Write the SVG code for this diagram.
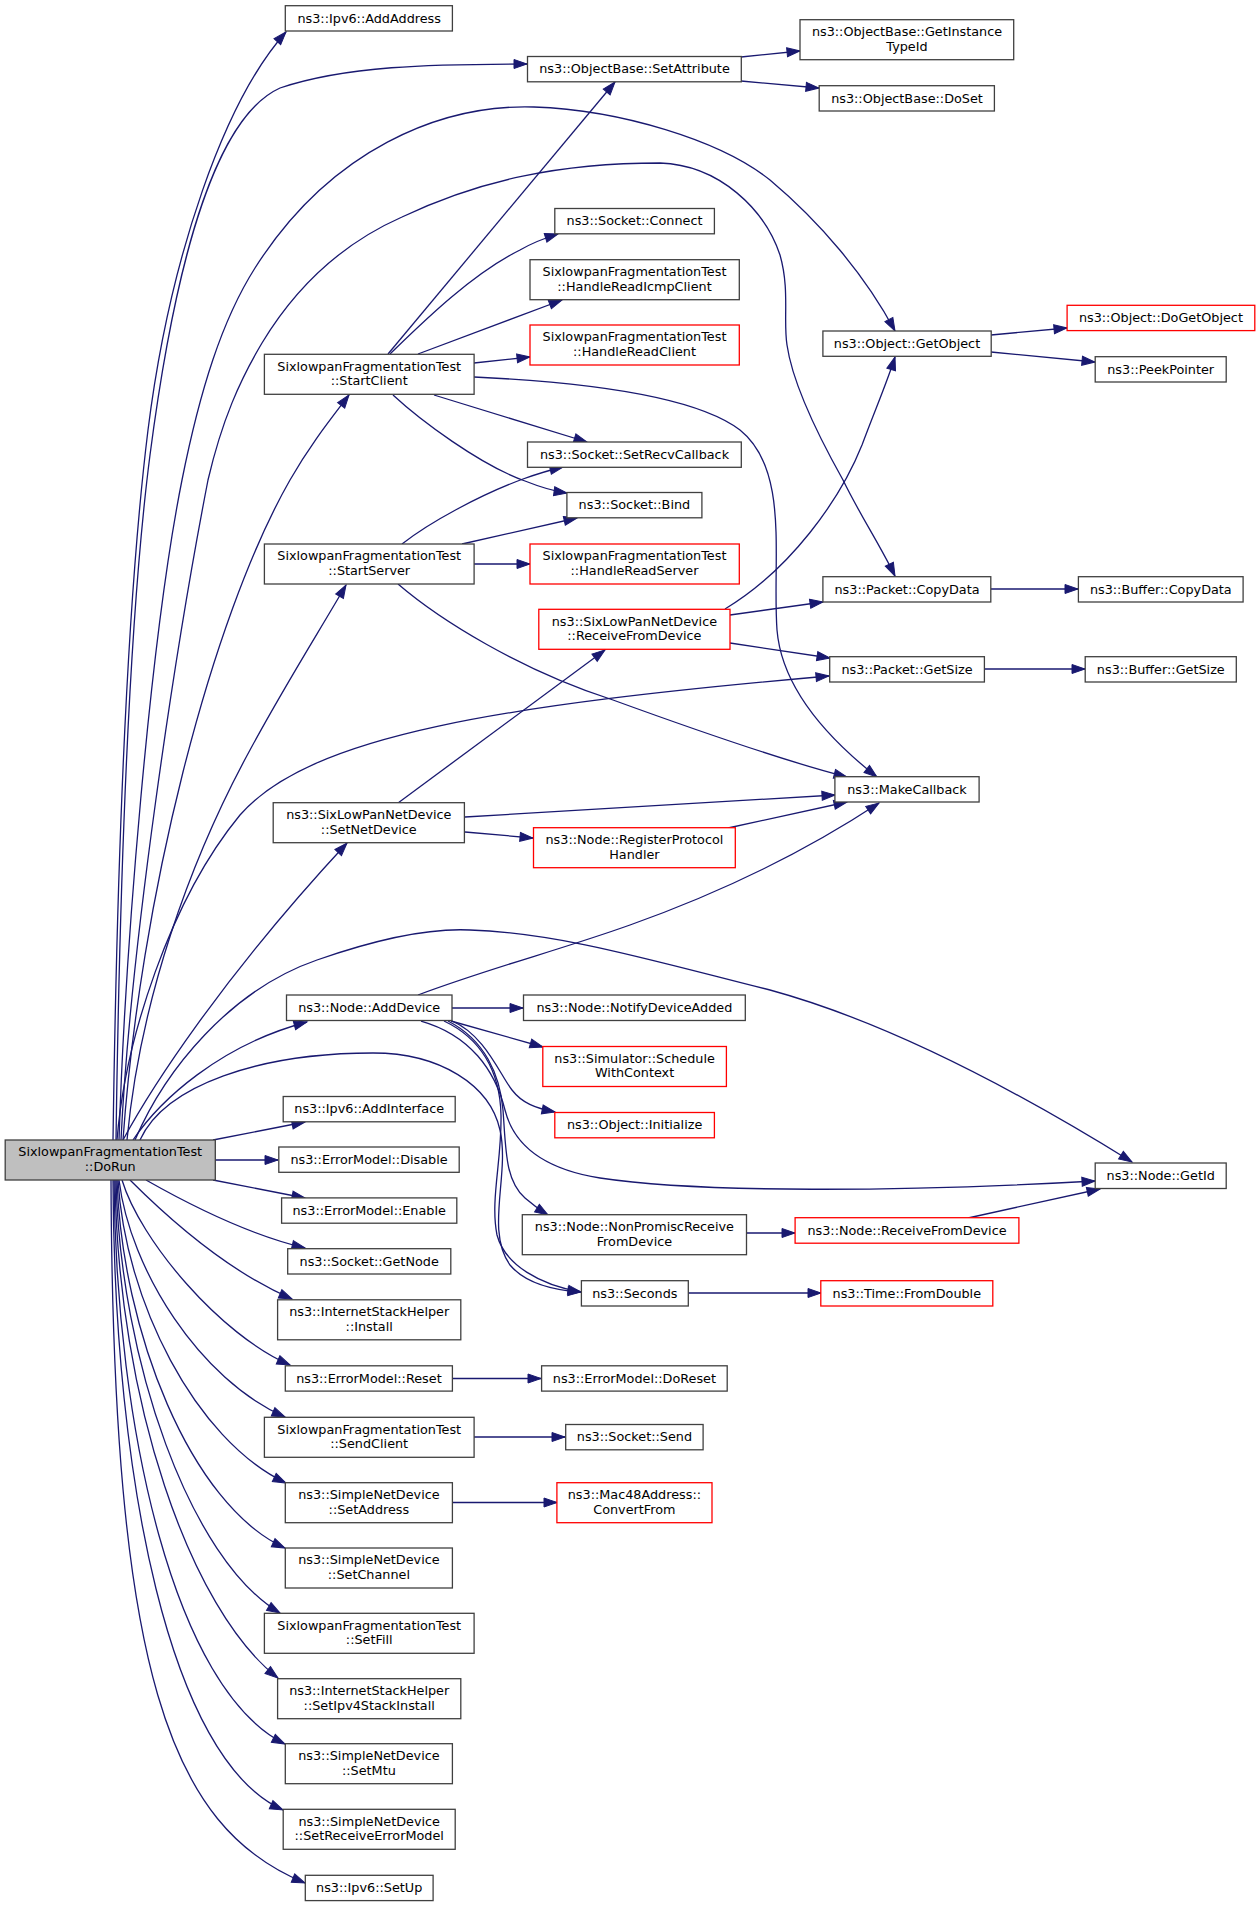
<svg xmlns="http://www.w3.org/2000/svg" width="1259" height="1907" viewBox="0 0 1259 1907">
<style>
.n rect{fill:#ffffff;stroke:#404040;stroke-width:1.3}
.r rect{stroke:#ff0000}
.root rect{fill:#bfbfbf}
text{font-family:"DejaVu Sans","Liberation Sans",sans-serif;font-size:12.8px;text-anchor:middle;fill:#000000}
.e path{fill:none;stroke:#191970;stroke-width:1.3;marker-end:url(#ah)}
</style>
<defs>
<marker id="ah" markerUnits="userSpaceOnUse" markerWidth="15" markerHeight="11" refX="13" refY="5" orient="auto" overflow="visible">
<path d="M0,0.5 L13,5 L0,9.5 z" fill="#191970" stroke="#191970" stroke-width="1"/>
</marker>
</defs>
<rect x="0" y="0" width="1259" height="1907" fill="#ffffff"/>
<g id="edges" class="e">
<path d="M113,1140 C117,860 127,600 148,430 C170,255 225,100 286,32"/>
<path d="M116,1140 C120,860 130,610 150,455 C178,240 220,115 280,88 C345,66 430,64 527,64"/>
<path d="M119,1140 C125,950 150,640 182,480 C200,390 222,320 255,268 C330,150 440,104 534,107 C620,110 720,140 770,180 C820,222 865,275 895,331"/>
<path d="M121,1140 C130,950 175,650 208,480 C222,420 240,380 262,343 C300,280 350,240 402,217 C480,180 560,163 660,163 C720,165 765,210 780,255 C790,290 783,320 787,345 C792,380 815,430 843,480 C860,515 880,545 895,576"/>
<path d="M123,1140 C140,900 210,620 290,480 C310,445 330,420 349,395"/>
<path d="M127,1140 C140,1000 190,860 250,750 C285,685 320,630 346,585"/>
<path d="M117,1140 C125,1040 170,900 240,815 C310,735 500,705 829,676"/>
<path d="M123,1140 C150,1090 220,980 347,843"/>
<path d="M135,1140 C165,1070 230,990 317,960 C380,938 430,928 470,930 C560,933 650,960 770,990 C880,1020 1000,1080 1132,1162"/>
<path d="M140,1140 C165,1085 260,1053 373,1053 C440,1053 490,1085 500,1130 C510,1175 485,1230 510,1265 C525,1283 550,1290 581,1292"/>
<path d="M133,1140 C160,1100 220,1045 307,1022"/>
<path d="M213,1140 L305,1122"/>
<path d="M215,1160 L278,1160"/>
<path d="M213,1180 L305,1198"/>
<path d="M146,1180 C190,1205 250,1235 305,1248"/>
<path d="M130,1180 C165,1215 225,1270 292,1299"/>
<path d="M122,1180 C140,1240 220,1335 290,1365"/>
<path d="M119,1180 C130,1270 200,1380 285,1417"/>
<path d="M118,1180 C125,1300 195,1440 286,1483"/>
<path d="M117,1180 C122,1330 190,1505 285,1548"/>
<path d="M116,1180 C120,1360 190,1560 280,1613"/>
<path d="M115,1180 C118,1400 190,1610 278,1678"/>
<path d="M114,1180 C116,1430 175,1690 285,1744"/>
<path d="M113,1180 C114,1480 170,1760 283,1810"/>
<path d="M111,1180 C113,1672 169,1827 305,1883"/>
<path d="M452,1008 L523,1008"/>
<path d="M451,1021 L543,1047"/>
<path d="M452,1021 C485,1035 500,1075 512,1090 C522,1103 535,1108 555,1112"/>
<path d="M448,1021 C485,1040 500,1075 503,1110 C506,1150 505,1180 525,1198 C533,1205 540,1210 548,1215"/>
<path d="M444,1021 C480,1038 500,1070 501,1115 C502,1160 490,1200 497,1235 C505,1265 540,1285 581,1292"/>
<path d="M421,1021 C470,1035 495,1070 505,1110 C515,1150 550,1170 600,1178 C700,1193 900,1192 1095,1181"/>
<path d="M418,995 C490,968 560,950 630,925 C720,893 800,855 879,803"/>
<path d="M968,1218 L1100,1189"/>
<path d="M741,57 L800,51"/>
<path d="M741,81 L819,88"/>
<path d="M388,354 L615,82"/>
<path d="M390,354 C420,325 470,275 520,250 C532,243 545,238 558,234"/>
<path d="M418,354 L562,300"/>
<path d="M474,363 L530,357"/>
<path d="M434,395 L587,442"/>
<path d="M393,395 C420,420 480,465 525,481 C540,487 552,491 567,493"/>
<path d="M474,377 C560,381 690,392 740,430 C790,470 772,560 777,630 C782,690 830,740 877,777"/>
<path d="M402,544 C430,522 480,495 523,479 C537,474 550,470 563,467"/>
<path d="M462,544 L577,518"/>
<path d="M474,564 L530,564"/>
<path d="M398,584 C440,620 520,670 613,700 C690,728 780,760 847,777"/>
<path d="M398,803 L605,650"/>
<path d="M465,832 L533,838"/>
<path d="M465,817 L835,795"/>
<path d="M728,828 L847,802"/>
<path d="M725,609 C790,570 840,500 862,445 C875,410 888,380 895,357"/>
<path d="M730,615 L823,602"/>
<path d="M730,643 L830,658"/>
<path d="M991,335 L1067,328"/>
<path d="M991,352 L1095,362"/>
<path d="M991,589 L1078,589"/>
<path d="M984,669 L1085,669"/>
<path d="M746,1233 L795,1233"/>
<path d="M688,1293 L821,1293"/>
<path d="M452,1378.5 L541,1378.5"/>
<path d="M474,1437 L565,1437"/>
<path d="M452,1502.5 L557,1502.5"/>
</g>
<g id="n_AddAddress" class="n"><rect x="285.3" y="5.7" width="167.1" height="25.3"/><text x="369.2" y="22.5">ns3::Ipv6::AddAddress</text></g>
<g id="n_SetAttribute" class="n"><rect x="527.5" y="56.5" width="213.8" height="25.3"/><text x="634.5" y="73.3">ns3::ObjectBase::SetAttribute</text></g>
<g id="n_GetInstanceTypeId" class="n"><rect x="800" y="19.7" width="213.7" height="40"/><text x="907" y="36">ns3::ObjectBase::GetInstance</text><text x="907" y="50.5">TypeId</text></g>
<g id="n_DoSet" class="n"><rect x="819.2" y="85.7" width="175.2" height="25.3"/><text x="907" y="102.5">ns3::ObjectBase::DoSet</text></g>
<g id="n_Connect" class="n"><rect x="554.8" y="208.5" width="159.6" height="25.3"/><text x="634.5" y="225.3">ns3::Socket::Connect</text></g>
<g id="n_HandleReadIcmpClient" class="n"><rect x="530" y="259.7" width="209.3" height="40"/><text x="634.5" y="276">SixlowpanFragmentationTest</text><text x="634.5" y="290.5">::HandleReadIcmpClient</text></g>
<g id="n_HandleReadClient" class="n r"><rect x="530" y="325" width="209.3" height="40"/><text x="634.5" y="341.3">SixlowpanFragmentationTest</text><text x="634.5" y="355.8">::HandleReadClient</text></g>
<g id="n_StartClient" class="n"><rect x="264.4" y="354.3" width="209.7" height="40"/><text x="369.2" y="370.6">SixlowpanFragmentationTest</text><text x="369.2" y="385.1">::StartClient</text></g>
<g id="n_GetObject" class="n"><rect x="822.9" y="331" width="168.3" height="25.3"/><text x="907" y="347.8">ns3::Object::GetObject</text></g>
<g id="n_DoGetObject" class="n r"><rect x="1067.1" y="305.3" width="187.7" height="25.3"/><text x="1160.9" y="322.1">ns3::Object::DoGetObject</text></g>
<g id="n_PeekPointer" class="n"><rect x="1095.2" y="356.7" width="131" height="25.3"/><text x="1160.7" y="373.5">ns3::PeekPointer</text></g>
<g id="n_SetRecvCallback" class="n"><rect x="527.5" y="442" width="213.8" height="25.3"/><text x="634.5" y="458.8">ns3::Socket::SetRecvCallback</text></g>
<g id="n_Bind" class="n"><rect x="566.9" y="492.5" width="135" height="25.3"/><text x="634.4" y="509.3">ns3::Socket::Bind</text></g>
<g id="n_StartServer" class="n"><rect x="264.4" y="544" width="209.7" height="40"/><text x="369.2" y="560.3">SixlowpanFragmentationTest</text><text x="369.2" y="574.8">::StartServer</text></g>
<g id="n_HandleReadServer" class="n r"><rect x="530" y="544" width="209.3" height="40"/><text x="634.5" y="560.3">SixlowpanFragmentationTest</text><text x="634.5" y="574.8">::HandleReadServer</text></g>
<g id="n_PacketCopyData" class="n"><rect x="822.9" y="576.7" width="167.9" height="25.3"/><text x="907" y="593.5">ns3::Packet::CopyData</text></g>
<g id="n_BufferCopyData" class="n"><rect x="1078.4" y="576.7" width="164.7" height="25.3"/><text x="1160.8" y="593.5">ns3::Buffer::CopyData</text></g>
<g id="n_SixLowPanReceiveFromDevice" class="n r"><rect x="538.8" y="609.3" width="191.2" height="40"/><text x="634.4" y="625.6">ns3::SixLowPanNetDevice</text><text x="634.4" y="640.1">::ReceiveFromDevice</text></g>
<g id="n_PacketGetSize" class="n"><rect x="829.7" y="656.7" width="154.7" height="25.3"/><text x="907" y="673.5">ns3::Packet::GetSize</text></g>
<g id="n_BufferGetSize" class="n"><rect x="1085.2" y="656.7" width="151.1" height="25.3"/><text x="1160.8" y="673.5">ns3::Buffer::GetSize</text></g>
<g id="n_MakeCallback" class="n"><rect x="834.9" y="776.7" width="144.2" height="25.3"/><text x="907" y="793.5">ns3::MakeCallback</text></g>
<g id="n_SetNetDevice" class="n"><rect x="273.2" y="802.7" width="191.2" height="40"/><text x="368.8" y="819">ns3::SixLowPanNetDevice</text><text x="368.8" y="833.5">::SetNetDevice</text></g>
<g id="n_RegisterProtocolHandler" class="n r"><rect x="533.5" y="827.7" width="201.8" height="40"/><text x="634.4" y="844">ns3::Node::RegisterProtocol</text><text x="634.4" y="858.5">Handler</text></g>
<g id="n_AddDevice" class="n"><rect x="286.5" y="995" width="165.5" height="25.5"/><text x="369.2" y="1011.8">ns3::Node::AddDevice</text></g>
<g id="n_NotifyDeviceAdded" class="n"><rect x="523.5" y="995" width="221.8" height="25.5"/><text x="634.4" y="1011.8">ns3::Node::NotifyDeviceAdded</text></g>
<g id="n_ScheduleWithContext" class="n r"><rect x="542.8" y="1046.5" width="183.6" height="40"/><text x="634.6" y="1062.8">ns3::Simulator::Schedule</text><text x="634.6" y="1077.3">WithContext</text></g>
<g id="n_AddInterface" class="n"><rect x="283.2" y="1096.5" width="172" height="25.3"/><text x="369.2" y="1113.3">ns3::Ipv6::AddInterface</text></g>
<g id="n_Initialize" class="n r"><rect x="554.8" y="1112.5" width="159.6" height="25.3"/><text x="634.6" y="1129.3">ns3::Object::Initialize</text></g>
<g id="n_DoRun" class="n root"><rect x="5.2" y="1140" width="210.1" height="40"/><text x="110.2" y="1156.3">SixlowpanFragmentationTest</text><text x="110.2" y="1170.8">::DoRun</text></g>
<g id="n_Disable" class="n"><rect x="278.8" y="1147" width="180.4" height="25.3"/><text x="369" y="1163.8">ns3::ErrorModel::Disable</text></g>
<g id="n_GetId" class="n"><rect x="1095.2" y="1163" width="131" height="25.5"/><text x="1160.7" y="1179.8">ns3::Node::GetId</text></g>
<g id="n_Enable" class="n"><rect x="281.6" y="1197.9" width="175.2" height="25.3"/><text x="369.2" y="1214.7">ns3::ErrorModel::Enable</text></g>
<g id="n_NonPromiscReceiveFromDevice" class="n"><rect x="522.3" y="1214.7" width="224.2" height="40"/><text x="634.4" y="1231">ns3::Node::NonPromiscReceive</text><text x="634.4" y="1245.5">FromDevice</text></g>
<g id="n_NodeReceiveFromDevice" class="n r"><rect x="795.1" y="1217.7" width="223.8" height="25.5"/><text x="907" y="1234.5">ns3::Node::ReceiveFromDevice</text></g>
<g id="n_GetNode" class="n"><rect x="287.7" y="1248.7" width="163.1" height="25.3"/><text x="369.2" y="1265.5">ns3::Socket::GetNode</text></g>
<g id="n_Seconds" class="n"><rect x="581.4" y="1280.7" width="106.9" height="25.3"/><text x="634.8" y="1297.5">ns3::Seconds</text></g>
<g id="n_FromDouble" class="n r"><rect x="820.8" y="1280.7" width="172" height="25.3"/><text x="906.8" y="1297.5">ns3::Time::FromDouble</text></g>
<g id="n_Install" class="n"><rect x="277.6" y="1299.8" width="183.2" height="40"/><text x="369.2" y="1316.1">ns3::InternetStackHelper</text><text x="369.2" y="1330.6">::Install</text></g>
<g id="n_Reset" class="n"><rect x="285.3" y="1365.8" width="167.1" height="25.3"/><text x="368.9" y="1382.6">ns3::ErrorModel::Reset</text></g>
<g id="n_DoReset" class="n"><rect x="541.6" y="1365.8" width="185.6" height="25.3"/><text x="634.4" y="1382.6">ns3::ErrorModel::DoReset</text></g>
<g id="n_SendClient" class="n"><rect x="264.4" y="1417.3" width="209.7" height="40"/><text x="369.2" y="1433.6">SixlowpanFragmentationTest</text><text x="369.2" y="1448.1">::SendClient</text></g>
<g id="n_Send" class="n"><rect x="565.7" y="1424.5" width="137.4" height="25.3"/><text x="634.4" y="1441.3">ns3::Socket::Send</text></g>
<g id="n_SetAddress" class="n"><rect x="285.3" y="1482.7" width="167.1" height="40"/><text x="368.9" y="1499">ns3::SimpleNetDevice</text><text x="368.9" y="1513.5">::SetAddress</text></g>
<g id="n_ConvertFrom" class="n r"><rect x="556.9" y="1482.7" width="155.1" height="40"/><text x="634.4" y="1499">ns3::Mac48Address::</text><text x="634.4" y="1513.5">ConvertFrom</text></g>
<g id="n_SetChannel" class="n"><rect x="285.3" y="1548" width="167.1" height="40"/><text x="368.9" y="1564.3">ns3::SimpleNetDevice</text><text x="368.9" y="1578.8">::SetChannel</text></g>
<g id="n_SetFill" class="n"><rect x="264.4" y="1613.3" width="209.7" height="40"/><text x="369.2" y="1629.6">SixlowpanFragmentationTest</text><text x="369.2" y="1644.1">::SetFill</text></g>
<g id="n_SetIpv4StackInstall" class="n"><rect x="277.6" y="1678.7" width="183.2" height="40"/><text x="369.2" y="1695">ns3::InternetStackHelper</text><text x="369.2" y="1709.5">::SetIpv4StackInstall</text></g>
<g id="n_SetMtu" class="n"><rect x="285.3" y="1743.7" width="167.1" height="40"/><text x="368.9" y="1760">ns3::SimpleNetDevice</text><text x="368.9" y="1774.5">::SetMtu</text></g>
<g id="n_SetReceiveErrorModel" class="n"><rect x="283.2" y="1809.3" width="172" height="40"/><text x="369.2" y="1825.6">ns3::SimpleNetDevice</text><text x="369.2" y="1840.1">::SetReceiveErrorModel</text></g>
<g id="n_SetUp" class="n"><rect x="305.3" y="1875.3" width="127.8" height="25.3"/><text x="369.2" y="1892.1">ns3::Ipv6::SetUp</text></g>
</svg>
